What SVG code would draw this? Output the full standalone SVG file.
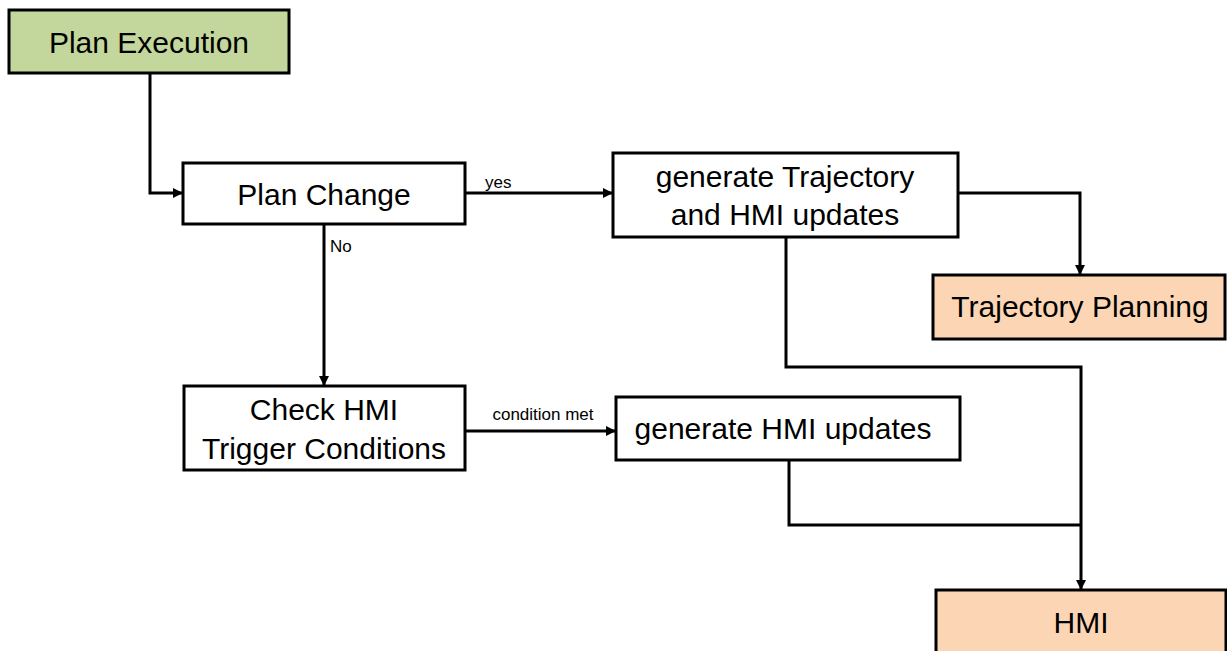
<svg xmlns="http://www.w3.org/2000/svg" width="1227" height="651" viewBox="0 0 1227 651">
<style>
.box{fill:#ffffff;stroke:#000000;stroke-width:3}
.green{fill:#C3D69B}
.peach{fill:#FCD5B5}
.t{font-family:"Liberation Sans",Arial,sans-serif;font-size:30px;fill:#000;text-anchor:middle}
.s{font-family:"Liberation Sans",Arial,sans-serif;font-size:17px;fill:#000}
.c{fill:none;stroke:#000;stroke-width:3}
</style>
<defs>
<marker id="arr" viewBox="0 0 10 10" refX="9" refY="5" markerWidth="3.4" markerHeight="3.4" orient="auto" markerUnits="strokeWidth">
<path d="M0,0 L10,5 L0,10 z" fill="#000"/>
</marker>
</defs>
<g id="connectors">
<path class="c" d="M150,73 V193 H182" marker-end="url(#arr)"/>
<path class="c" d="M465,193 H612" marker-end="url(#arr)"/>
<path class="c" d="M324,224 V385" marker-end="url(#arr)"/>
<path class="c" d="M465,431 H615" marker-end="url(#arr)"/>
<path class="c" d="M958,193 H1080 V274" marker-end="url(#arr)"/>
<path class="c" d="M786,237 V367 H1081 V589" marker-end="url(#arr)"/>
<path class="c" d="M789,460 V525 H1081"/>
<text class="s" x="485" y="188">yes</text>
<text class="s" x="330" y="252">No</text>
<text class="s" x="543" y="420" text-anchor="middle">condition met</text>
</g>
<g id="plan-execution">
<rect class="box green" x="9" y="10" width="280" height="63"/>
<text class="t" x="149" y="53">Plan Execution</text>
</g>
<g id="plan-change">
<rect class="box" x="183" y="163" width="282" height="61"/>
<text class="t" x="324" y="205">Plan Change</text>
</g>
<g id="generate-trajectory">
<rect class="box" x="613" y="153" width="345" height="84"/>
<text class="t" x="785" y="187">generate Trajectory</text>
<text class="t" x="785" y="225">and HMI updates</text>
</g>
<g id="trajectory-planning">
<rect class="box peach" x="933" y="275" width="292" height="64"/>
<text class="t" x="1080" y="317">Trajectory Planning</text>
</g>
<g id="check-hmi">
<rect class="box" x="184" y="386" width="281" height="84"/>
<text class="t" x="324" y="420">Check HMI</text>
<text class="t" x="324" y="459">Trigger Conditions</text>
</g>
<g id="generate-hmi">
<rect class="box" x="616" y="397" width="344" height="63"/>
<text class="t" x="783" y="439">generate HMI updates</text>
</g>
<g id="hmi">
<rect class="box peach" x="936" y="590" width="290" height="64"/>
<text class="t" x="1081" y="633">HMI</text>
</g>
</svg>
